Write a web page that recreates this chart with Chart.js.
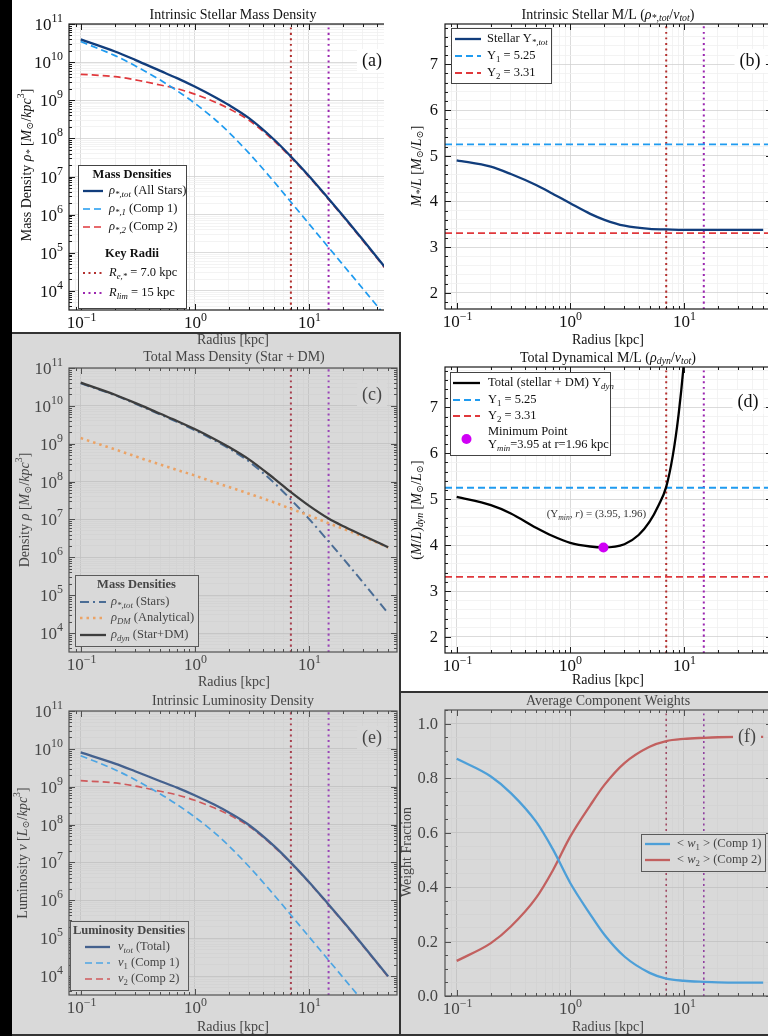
<!DOCTYPE html>
<html lang="en">
<head>
<meta charset="UTF-8">
<title>Stellar and dynamical mass profiles</title>
<script src="https://cdn.jsdelivr.net/npm/chart.js"></script>
<style>
  html, body { margin: 0; padding: 0; }
  body { width: 768px; height: 1036px; background: #000; position: relative; overflow: hidden; }
  .bg { position: absolute; }
  canvas { position: absolute; left: 0; top: 0; }
</style>
</head>
<body>
<div class="bg" style="left:12px;top:0;width:756px;height:333px;background:#fff"></div>
<div class="bg" style="left:400px;top:333px;width:368px;height:359px;background:#fff"></div>
<div class="bg" style="left:12px;top:333px;width:388px;height:703px;background:#d9d9d9"></div>
<div class="bg" style="left:400px;top:692px;width:368px;height:344px;background:#d9d9d9"></div>

<div style="position:absolute;left:12px;top:0;width:372px;height:352px;overflow:hidden"><canvas id="chartA" width="400" height="352"></canvas></div>
<canvas id="chartB" width="400" height="352" style="left:384px;top:0"></canvas>
<canvas id="chartC" width="388" height="357" style="left:12px;top:333px"></canvas>
<canvas id="chartD" width="400" height="357" style="left:400px;top:333px"></canvas>
<canvas id="chartE" width="388" height="348" style="left:12px;top:688px"></canvas>
<canvas id="chartF" width="400" height="348" style="left:400px;top:688px"></canvas>

<div class="bg" style="left:12px;top:332px;width:389px;height:2px;background:#333"></div>
<div class="bg" style="left:399px;top:332px;width:2px;height:704px;background:#333"></div>
<div class="bg" style="left:400px;top:691px;width:368px;height:2px;background:#333"></div>
<div class="bg" style="left:12px;top:1034px;width:756px;height:2px;background:#333"></div>

<script>
// ---- data ----
const RADII = [0.1, 0.2, 0.3, 0.5, 0.7, 1, 1.5, 2, 3, 5, 7, 10, 15, 20, 30, 50];

// (a) stellar mass density [Msun/kpc^3]
const RHO_TOT = [3.95e10, 1.90e10, 1.15e10, 5.89e9, 3.80e9, 2.29e9, 1.22e9, 7.48e8, 3.39e8, 9.20e7, 3.36e7, 1.07e7, 2.63e6, 9.55e5, 2.19e5, 3.31e4];
const RHO_1 = [3.47e10, 1.48e10, 8.05e9, 3.38e9, 1.78e9, 8.41e8, 3.18e8, 1.44e8, 4.10e7, 7.21e6, 2.15e6, 5.94e5, 1.38e5, 4.90e4, 1.14e4, 1.81e3];
const RHO_2 = [4.80e9, 4.17e9, 3.45e9, 2.51e9, 2.02e9, 1.45e9, 9.02e8, 6.04e8, 2.98e8, 8.48e7, 3.15e7, 1.01e7, 2.49e6, 9.06e5, 2.08e5, 3.13e4];

// (b) stellar M/L
const UPS_STAR = [4.90, 4.76, 4.60, 4.36, 4.17, 3.96, 3.73, 3.60, 3.47, 3.40, 3.39, 3.38, 3.38, 3.38, 3.38, 3.38];
const UPS_1 = 5.25;
const UPS_2 = 3.31;

// (c) dark matter and total density
const RHO_DM = [1.41e9, 7.08e8, 4.68e8, 2.82e8, 2.04e8, 1.45e8, 9.55e7, 7.24e7, 4.79e7, 2.82e7, 1.91e7, 1.29e7, 7.94e6, 5.75e6, 3.55e6, 1.82e6];
const RHO_DYN = [4.09e10, 1.97e10, 1.20e10, 6.17e9, 4.00e9, 2.44e9, 1.32e9, 8.20e8, 3.87e8, 1.20e8, 5.27e7, 2.36e7, 1.06e7, 6.71e6, 3.77e6, 1.85e6];

// (d) dynamical M/L
const DYN_RADII = [0.1, 0.2, 0.3, 0.5, 0.7, 1, 1.5, 1.96, 3, 4, 5, 6, 7, 8, 9, 10, 11, 12];
const UPS_DYN = [5.05, 4.87, 4.69, 4.38, 4.20, 4.05, 3.97, 3.95, 4.02, 4.22, 4.51, 4.87, 5.27, 5.95, 6.85, 7.95, 9.3, 10.9];
const MIN_R = [1.96];
const MIN_UPS = [3.95];

// (e) luminosity density [Lsun/kpc^3]
const NU_TOT = [8.06e9, 4.08e9, 2.57e9, 1.40e9, 9.49e8, 5.98e8, 3.34e8, 2.09e8, 9.78e7, 2.70e7, 9.93e6, 3.16e6, 7.78e5, 2.83e5, 6.50e4, 9.81e3];
const NU_1 = [6.61e9, 2.82e9, 1.53e9, 6.44e8, 3.39e8, 1.60e8, 6.06e7, 2.74e7, 7.81e6, 1.37e6, 4.10e5, 1.13e5, 2.63e4, 9.33e3, 2.17e3, 3.45e2];
const NU_2 = [1.45e9, 1.26e9, 1.04e9, 7.58e8, 6.10e8, 4.38e8, 2.73e8, 1.82e8, 9.00e7, 2.56e7, 9.52e6, 3.05e6, 7.52e5, 2.74e5, 6.28e4, 9.46e3];

// (f) average component weights
const W_1 = [0.871, 0.806, 0.745, 0.640, 0.540, 0.415, 0.300, 0.225, 0.145, 0.085, 0.064, 0.056, 0.052, 0.050, 0.049, 0.049];
const W_2 = [0.129, 0.194, 0.255, 0.360, 0.460, 0.585, 0.700, 0.775, 0.855, 0.915, 0.936, 0.944, 0.948, 0.950, 0.951, 0.951];

const KEY_RADII = [7.0, 15];

// axis limits
const X_RANGE = [0.0789, 59.8];
const LOG_Y_RANGE = [3162, 1e11];
const ML_Y_RANGE = [1.65, 7.88];
const W_Y_RANGE = [0, 1.05];

const FONT = '"Liberation Serif", "DejaVu Serif", serif';
const WHITE = { bg: '#ffffff', major: '#d2d2d2', minor: '#f0f0f0', frame: '#1a1a1a', text: '#111111', edge: '#444444' };
const GRAY = { bg: '#d9d9d9', major: '#c2c2c2', minor: '#d3d3d3', frame: '#505050', text: '#454545', edge: '#5a5a5a' };

// ---- helpers ----
const pts = (xs, ys) => xs.map((x, i) => ({ x: x, y: ys[i] }));
const hline = (v, xr) => [{ x: xr[0], y: v }, { x: xr[1], y: v }];
const vline = (v, yr) => [{ x: v, y: yr[0] }, { x: v, y: yr[1] }];

function isPow10(v) { const l = Math.log10(v); return Math.abs(l - Math.round(l)) < 1e-6; }
function isLogMinor(v) {
  const e = Math.floor(Math.log10(v) + 1e-9);
  const s = v / Math.pow(10, e);
  return Math.abs(s - Math.round(s)) < 1e-6;
}
function isMult(v, m) { const q = v / m; return Math.abs(q - Math.round(q)) < 1e-6; }

// tiny markup: {i:..} italic, {s:..} italic subscript, {sn:..} upright subscript, {p:..} superscript
function parseRich(str) {
  const out = [];
  const re = /\{(\w+):([^}]*)\}|([^{]+)/g;
  let m;
  while ((m = re.exec(str))) {
    if (m[3] !== undefined) out.push({ t: m[3], k: 'n' });
    else out.push({ t: m[2], k: m[1] });
  }
  return out;
}
function segFont(k, size, bold) {
  const small = (k === 's' || k === 'sn' || k === 'p');
  const it = (k === 'i' || k === 's');
  return (it ? 'italic ' : '') + (bold ? 'bold ' : '') + (small ? size * 0.7 : size).toFixed(1) + 'px ' + FONT;
}
function drawRich(ctx, str, x, y, o) {
  const parts = parseRich(str);
  const size = o.size || 14;
  ctx.save();
  ctx.translate(x, y);
  if (o.rot) ctx.rotate(o.rot);
  let w = 0;
  parts.forEach(p => { ctx.font = segFont(p.k, size, o.bold); w += ctx.measureText(p.t).width; });
  let cx = o.align === 'center' ? -w / 2 : (o.align === 'right' ? -w : 0);
  ctx.textBaseline = 'middle';
  ctx.textAlign = 'left';
  ctx.fillStyle = o.color || '#111';
  parts.forEach(p => {
    ctx.font = segFont(p.k, size, o.bold);
    const dy = (p.k === 's' || p.k === 'sn') ? size * 0.28 : (p.k === 'p' ? -size * 0.38 : 0);
    ctx.fillText(p.t, cx, dy);
    cx += ctx.measureText(p.t).width;
  });
  ctx.restore();
  return w;
}

function drawLegend(ctx, chart, lg, th) {
  const [x1, y1, x2, y2] = lg.box;
  ctx.fillStyle = th.bg;
  ctx.fillRect(x1, y1, x2 - x1, y2 - y1);
  ctx.strokeStyle = th.edge;
  ctx.lineWidth = 1;
  ctx.strokeRect(x1 + 0.5, y1 + 0.5, x2 - x1, y2 - y1);
  lg.rows.forEach(row => {
    if (row.title) {
      drawRich(ctx, row.title, (x1 + x2) / 2, row.y, { size: lg.size, align: 'center', color: th.text, bold: true });
      return;
    }
    if (row.ds !== undefined) {
      const ds = chart.data.datasets[row.ds];
      ctx.save();
      if (ds.showLine === false) {
        ctx.fillStyle = ds.pointBackgroundColor;
        ctx.beginPath();
        ctx.arc((lg.lineX[0] + lg.lineX[1]) / 2, row.dotY || row.y, ds.pointRadius, 0, Math.PI * 2);
        ctx.fill();
      } else {
        ctx.strokeStyle = ds.borderColor;
        ctx.lineWidth = ds.borderWidth;
        ctx.setLineDash(ds.borderDash || []);
        ctx.beginPath();
        ctx.moveTo(lg.lineX[0], row.y);
        ctx.lineTo(lg.lineX[1], row.y);
        ctx.stroke();
      }
      ctx.restore();
    }
    if (row.text) drawRich(ctx, row.text, lg.textX, row.y, { size: lg.size, color: th.text });
  });
}

function makeDecor(spec) {
  const th = spec.theme;
  return {
    id: 'decor',
    afterDraw(chart) {
      const ctx = chart.ctx;
      const a = chart.chartArea;
      const xs = chart.scales.x, ys = chart.scales.y;
      ctx.save();
      // frame
      ctx.strokeStyle = th.frame;
      ctx.lineWidth = 1.2;
      ctx.strokeRect(a.left, a.top, a.right - a.left, a.bottom - a.top);
      // inward ticks on all four sides, labels on majors
      ctx.lineWidth = 1;
      [xs, ys].forEach(sc => {
        sc.ticks.forEach(t => {
          const v = t.value;
          let kind;
          if (sc.type === 'logarithmic') kind = isPow10(v) ? 2 : (isLogMinor(v) ? 1 : 0);
          else kind = isMult(v, spec.yMajor) ? 2 : 1;
          if (!kind) return;
          const len = kind === 2 ? 6 : 3;
          const p = Math.round(sc.getPixelForValue(v)) + 0.5;
          ctx.beginPath();
          if (sc.isHorizontal()) {
            if (p < a.left || p > a.right) return;
            ctx.moveTo(p, a.bottom); ctx.lineTo(p, a.bottom - len);
            ctx.moveTo(p, a.top); ctx.lineTo(p, a.top + len);
          } else {
            if (p < a.top - 1 || p > a.bottom + 1) return;
            ctx.moveTo(a.left, p); ctx.lineTo(a.left + len, p);
            ctx.moveTo(a.right, p); ctx.lineTo(a.right - len, p);
          }
          ctx.stroke();
          if (kind !== 2) return;
          if (sc.isHorizontal()) {
            const e = Math.round(Math.log10(v));
            drawRich(ctx, '10{p:' + String(e).replace('-', '\u2212') + '}', p, a.bottom + 14, { size: 17, align: 'center', color: th.text });
          } else if (sc.type === 'logarithmic') {
            const e = Math.round(Math.log10(v));
            drawRich(ctx, '10{p:' + e + '}', a.left - 6, p + 1, { size: 17, align: 'right', color: th.text });
          } else {
            drawRich(ctx, v.toFixed(spec.yDec), a.left - 7, p, { size: 16.5, align: 'right', color: th.text });
          }
        });
      });
      // texts in page coordinates
      ctx.translate(-spec.ox, -spec.oy);
      drawRich(ctx, spec.title[0], spec.title[1], spec.title[2], { size: 14, align: 'center', color: th.text });
      drawRich(ctx, 'Radius [kpc]', spec.xTitle[0], spec.xTitle[1], { size: 14, align: 'center', color: spec.xTitleColor || th.text });
      drawRich(ctx, spec.yTitle[0], spec.yTitle[1], spec.yTitle[2], { size: 14, align: 'center', color: th.text, rot: -Math.PI / 2 });
      // panel letter with a background box
      ctx.font = '18px ' + FONT;
      const lw = ctx.measureText(spec.letter[0]).width;
      ctx.fillStyle = th.bg;
      ctx.fillRect(spec.letter[1] - lw / 2 - 5, spec.letter[2] - 12, lw + 10, 24);
      drawRich(ctx, spec.letter[0], spec.letter[1], spec.letter[2], { size: 18, align: 'center', color: th.text });
      if (spec.note) {
        const px = xs.getPixelForValue(MIN_R[0]) + spec.ox;
        const py = ys.getPixelForValue(MIN_UPS[0]) + spec.oy;
        drawRich(ctx, spec.note, px - 7, py - 33, { size: 11, align: 'center', color: '#333' });
      }
      drawLegend(ctx, chart, spec.legend, th);
      ctx.restore();
    }
  };
}

function logAxis(r, th) {
  return {
    type: 'logarithmic', min: r[0], max: r[1],
    afterFit: s => { if (s.isHorizontal()) s.height = 0; else s.width = 0; },
    ticks: { display: false, autoSkip: false },
    grid: {
      drawTicks: false, lineWidth: 0.8,
      color: c => !c.tick ? 'rgba(0,0,0,0)' : (isPow10(c.tick.value) ? th.major : (isLogMinor(c.tick.value) ? th.minor : 'rgba(0,0,0,0)'))
    },
    border: { display: false }
  };
}
function linAxis(r, step, major, th) {
  return {
    type: 'linear', min: r[0], max: r[1],
    afterFit: s => { s.width = 0; },
    ticks: { display: false, autoSkip: false, stepSize: step, includeBounds: false },
    grid: {
      drawTicks: false, lineWidth: 0.8,
      color: c => !c.tick ? 'rgba(0,0,0,0)' : (isMult(c.tick.value, major) ? th.major : th.minor)
    },
    border: { display: false }
  };
}

function curve(data, color, width, dash) {
  return { data: data, borderColor: color, borderWidth: width, borderDash: dash || [], pointRadius: 0,
           fill: false, cubicInterpolationMode: 'monotone' };
}

function buildPanel(id, geo, datasets, yAxis, spec) {
  const c = document.getElementById(id);
  const W = c.width, H = c.height;
  const [L, T, R, B] = geo.plot;
  spec.ox = geo.ox; spec.oy = geo.oy;
  return new Chart(c.getContext('2d'), {
    type: 'line',
    data: { datasets: datasets },
    options: {
      responsive: false, animation: false, events: [],
      layout: { padding: { left: L - geo.ox, top: T - geo.oy, right: geo.ox + W - R, bottom: geo.oy + H - B } },
      plugins: { legend: { display: false }, tooltip: { enabled: false } },
      scales: { x: logAxis(X_RANGE, spec.theme), y: yAxis }
    },
    plugins: [makeDecor(spec)]
  });
}

const RE_W = '#b3302f', RLIM_W = '#9b27b0';
const RE_G = '#a8404f', RLIM_G = '#9a45b8';
const DOT = [2, 3.5];

// (a) intrinsic stellar mass density
buildPanel('chartA', { ox: 12, oy: 0, plot: [69, 24, 397, 310] }, [
  curve(pts(RADII, RHO_TOT), '#113d7c', 2.3),
  curve(pts(RADII, RHO_1), '#1f9bf0', 1.7, [7, 4]),
  curve(pts(RADII, RHO_2), '#e0383c', 1.7, [7, 4]),
  curve(vline(KEY_RADII[0], LOG_Y_RANGE), RE_W, 2, DOT),
  curve(vline(KEY_RADII[1], LOG_Y_RANGE), RLIM_W, 2, DOT)
], logAxis(LOG_Y_RANGE, WHITE), {
  theme: WHITE,
  title: ['Intrinsic Stellar Mass Density', 233, 15],
  xTitle: [233, 340], xTitleColor: '#444',
  yTitle: ['Mass Density {i:\u03c1}{s:*} [{i:M}{sn:\u2299}/{i:kpc}{p:3}]', 27, 165],
  letter: ['(a)', 372, 61],
  legend: {
    box: [78, 165, 186, 308], lineX: [83, 103], textX: 109, size: 12.5,
    rows: [
      { y: 175, title: 'Mass Densities' },
      { y: 191, ds: 0, text: '{i:\u03c1}{s:*,tot} (All Stars)' },
      { y: 209, ds: 1, text: '{i:\u03c1}{s:*,1} (Comp 1)' },
      { y: 227, ds: 2, text: '{i:\u03c1}{s:*,2} (Comp 2)' },
      { y: 254, title: 'Key Radii' },
      { y: 273, ds: 3, text: '{i:R}{s:e,*} = 7.0 kpc' },
      { y: 293, ds: 4, text: '{i:R}{s:lim} = 15 kpc' }
    ]
  }
});

// (b) intrinsic stellar M/L
buildPanel('chartB', { ox: 384, oy: 0, plot: [445, 24, 772, 309] }, [
  curve(pts(RADII, UPS_STAR), '#113d7c', 2.3),
  curve(hline(UPS_1, X_RANGE), '#1f9bf0', 1.8, [7, 4]),
  curve(hline(UPS_2, X_RANGE), '#e0383c', 1.8, [7, 4]),
  curve(vline(KEY_RADII[0], ML_Y_RANGE), RE_W, 2, DOT),
  curve(vline(KEY_RADII[1], ML_Y_RANGE), RLIM_W, 2, DOT)
], linAxis(ML_Y_RANGE, 0.2, 1, WHITE), {
  theme: WHITE, yMajor: 1, yDec: 0,
  title: ['Intrinsic Stellar M/L ({i:\u03c1}{s:*,tot}/{i:\u03bd}{s:tot})', 608, 15],
  xTitle: [608, 340],
  yTitle: ['{i:M}{s:*}/{i:L} [{i:M}{sn:\u2299}/{i:L}{sn:\u2299}]', 417, 166],
  letter: ['(b)', 750, 61],
  legend: {
    box: [451, 28, 551, 83], lineX: [455, 481], textX: 487, size: 12.5,
    rows: [
      { y: 39, ds: 0, text: 'Stellar \u03a5{s:*,tot}' },
      { y: 56, ds: 1, text: '\u03a5{sn:1} = 5.25' },
      { y: 73, ds: 2, text: '\u03a5{sn:2} = 3.31' }
    ]
  }
});

// (c) total mass density
buildPanel('chartC', { ox: 12, oy: 333, plot: [69, 368, 397, 652] }, [
  curve(pts(RADII, RHO_DYN), '#3d3d3d', 2.3),
  curve(pts(RADII, RHO_DM), '#eba366', 2.6, [2.5, 4]),
  curve(pts(RADII, RHO_TOT), '#4b6d95', 2, [9, 4, 2, 4]),
  curve(vline(KEY_RADII[0], LOG_Y_RANGE), RE_G, 2, DOT),
  curve(vline(KEY_RADII[1], LOG_Y_RANGE), RLIM_G, 2, DOT)
], logAxis(LOG_Y_RANGE, GRAY), {
  theme: GRAY,
  title: ['Total Mass Density (Star + DM)', 234, 357],
  xTitle: [234, 682],
  yTitle: ['Density {i:\u03c1} [{i:M}{sn:\u2299}/{i:kpc}{p:3}]', 25, 510],
  letter: ['(c)', 372, 395],
  legend: {
    box: [75, 575, 198, 646], lineX: [80, 106], textX: 111, size: 12.5,
    rows: [
      { y: 585, title: 'Mass Densities' },
      { y: 602, ds: 2, text: '{i:\u03c1}{s:*,tot} (Stars)' },
      { y: 618, ds: 1, text: '{i:\u03c1}{s:DM} (Analytical)' },
      { y: 635, ds: 0, text: '{i:\u03c1}{s:dyn} (Star+DM)' }
    ]
  }
});

// (d) total dynamical M/L
buildPanel('chartD', { ox: 400, oy: 333, plot: [445, 367, 772, 653] }, [
  { data: pts(MIN_R, MIN_UPS), showLine: false, pointRadius: 5, pointBackgroundColor: '#d000f5', pointBorderWidth: 0 },
  curve(pts(DYN_RADII, UPS_DYN), '#000000', 2.3),
  curve(hline(UPS_1, X_RANGE), '#1f9bf0', 1.8, [7, 4]),
  curve(hline(UPS_2, X_RANGE), '#e0383c', 1.8, [7, 4]),
  curve(vline(KEY_RADII[0], ML_Y_RANGE), RE_W, 2, DOT),
  curve(vline(KEY_RADII[1], ML_Y_RANGE), RLIM_W, 2, DOT)
], linAxis(ML_Y_RANGE, 0.2, 1, WHITE), {
  theme: WHITE, yMajor: 1, yDec: 0,
  title: ['Total Dynamical M/L ({i:\u03c1}{s:dyn}/{i:\u03bd}{s:tot})', 608, 358],
  xTitle: [608, 680],
  yTitle: ['({i:M}/{i:L}){s:dyn} [{i:M}{sn:\u2299}/{i:L}{sn:\u2299}]', 417, 510],
  letter: ['(d)', 748, 402],
  note: '(\u03a5{s:min}, {i:r}) = (3.95, 1.96)',
  legend: {
    box: [450, 372, 610, 455], lineX: [453, 480], textX: 488, size: 12.5,
    rows: [
      { y: 383, ds: 1, text: 'Total (stellar + DM) \u03a5{s:dyn}' },
      { y: 400, ds: 2, text: '\u03a5{sn:1} = 5.25' },
      { y: 416, ds: 3, text: '\u03a5{sn:2} = 3.31' },
      { y: 432, text: 'Minimum Point' },
      { y: 445, ds: 0, dotY: 439, text: '\u03a5{s:min}=3.95 at r=1.96 kpc' }
    ]
  }
});

// (e) intrinsic luminosity density
buildPanel('chartE', { ox: 12, oy: 688, plot: [69, 711, 397, 995] }, [
  curve(pts(RADII, NU_TOT), '#44618e', 2.3),
  curve(pts(RADII, NU_1), '#4da5e3', 1.7, [7, 4]),
  curve(pts(RADII, NU_2), '#cf5a5c', 1.7, [7, 4]),
  curve(vline(KEY_RADII[0], LOG_Y_RANGE), RE_G, 2, DOT),
  curve(vline(KEY_RADII[1], LOG_Y_RANGE), RLIM_G, 2, DOT)
], logAxis(LOG_Y_RANGE, GRAY), {
  theme: GRAY,
  title: ['Intrinsic Luminosity Density', 233, 701],
  xTitle: [233, 1027],
  yTitle: ['Luminosity {i:\u03bd} [{i:L}{sn:\u2299}/{i:kpc}{p:3}]', 23, 853],
  letter: ['(e)', 372, 738],
  legend: {
    box: [70, 921, 188, 990], lineX: [85, 110], textX: 118, size: 12.5,
    rows: [
      { y: 931, title: 'Luminosity Densities' },
      { y: 947, ds: 0, text: '{i:\u03bd}{s:tot} (Total)' },
      { y: 963, ds: 1, text: '{i:\u03bd}{sn:1} (Comp 1)' },
      { y: 979, ds: 2, text: '{i:\u03bd}{sn:2} (Comp 2)' }
    ]
  }
});

// (f) average component weights
buildPanel('chartF', { ox: 400, oy: 688, plot: [445, 710, 772, 996] }, [
  curve(pts(RADII, W_1), '#4d9fd8', 2.3),
  curve(pts(RADII, W_2), '#c2605f', 2.3),
  curve(vline(KEY_RADII[0], W_Y_RANGE), '#a04a63', 1.6, DOT),
  curve(vline(KEY_RADII[1], W_Y_RANGE), '#8f3f9e', 1.6, DOT)
], linAxis(W_Y_RANGE, 0.05, 0.2, GRAY), {
  theme: GRAY, yMajor: 0.2, yDec: 1,
  title: ['Average Component Weights', 608, 701],
  xTitle: [608, 1027],
  yTitle: ['Weight Fraction', 407, 852],
  letter: ['(f)', 747, 737],
  legend: {
    box: [641, 834, 765, 871], lineX: [645, 670], textX: 677, size: 12.5,
    rows: [
      { y: 844, ds: 0, text: '< {i:w}{sn:1} > (Comp 1)' },
      { y: 860, ds: 1, text: '< {i:w}{sn:2} > (Comp 2)' }
    ]
  }
});
</script>
</body>
</html>
